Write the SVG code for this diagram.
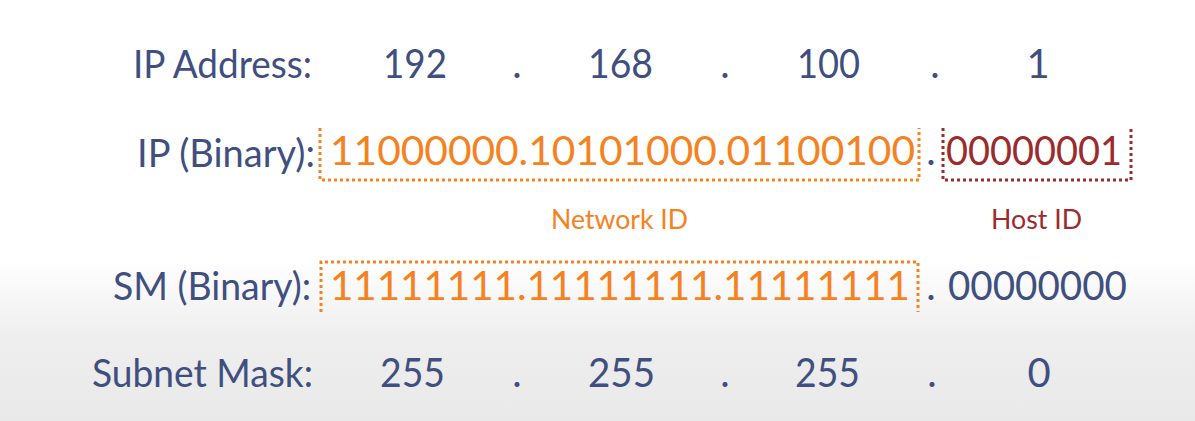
<svg xmlns="http://www.w3.org/2000/svg" width="1195" height="421" viewBox="0 0 1195 421">
<defs>
<linearGradient id="bg" x1="0" y1="0" x2="0" y2="1">
<stop offset="0" stop-color="#ffffff"/>
<stop offset="0.62" stop-color="#ffffff"/>
<stop offset="0.8" stop-color="#eeeeee"/>
<stop offset="1" stop-color="#e9e9e9"/>
</linearGradient>
<style>
text{font-family:Lato,"Liberation Sans",sans-serif;}
.lbl{fill:#3f4f80;font-size:38px;}
.num{fill:#3f4f80;font-size:40px;}
.org{fill:#f5821f;font-size:40px;}
.red{fill:#9c2b2b;font-size:40px;}
.sub{font-size:26px;}
.dot{fill:#3f4f80;font-size:40px;text-anchor:middle;}
.box{fill:none;stroke-width:3;stroke-dasharray:3 3;}
</style>
</defs>
<rect width="1195" height="421" fill="url(#bg)"/>
<g id="row-ip-address">
<text class="lbl" x="133" y="78" textLength="179" lengthAdjust="spacingAndGlyphs">IP Address:</text>
<text class="num" x="383" y="78" textLength="64" lengthAdjust="spacingAndGlyphs">192</text>
<text class="dot" x="517" y="78">.</text>
<text class="num" x="588" y="78" textLength="65" lengthAdjust="spacingAndGlyphs">168</text>
<text class="dot" x="725" y="78">.</text>
<text class="num" x="797" y="78" textLength="63" lengthAdjust="spacingAndGlyphs">100</text>
<text class="dot" x="935" y="78">.</text>
<text class="num" x="1038" y="78" text-anchor="middle">1</text>
</g>
<g id="row-ip-binary">
<text class="lbl" x="137" y="167" textLength="178" lengthAdjust="spacingAndGlyphs">IP (Binary):</text>
<text class="org" x="330" y="165" textLength="585" lengthAdjust="spacingAndGlyphs">11000000.10101000.01100100</text>
<text class="dot" x="931" y="165">.</text>
<text class="red" x="946" y="165" textLength="176" lengthAdjust="spacingAndGlyphs">00000001</text>
</g>
<g id="network-id">
<path class="box" stroke="#f5821f" d="M320,128 V180 H919 V128"/>
<text class="org sub" x="551" y="229" textLength="137" lengthAdjust="spacingAndGlyphs">Network ID</text>
</g>
<g id="host-id">
<path class="box" stroke="#9c2b2b" d="M943,128 V180 H1131 V128"/>
<text class="red sub" x="991" y="229" textLength="91" lengthAdjust="spacingAndGlyphs">Host ID</text>
</g>
<g id="row-sm-binary">
<path class="box" stroke="#f5821f" d="M321,312 V262 H918 V312"/>
<text class="lbl" x="113" y="300" textLength="198" lengthAdjust="spacingAndGlyphs">SM (Binary):</text>
<text class="org" x="330" y="300" textLength="580" lengthAdjust="spacingAndGlyphs">11111111.11111111.11111111</text>
<text class="dot" x="931" y="300">.</text>
<text class="num" x="948" y="300" textLength="179" lengthAdjust="spacingAndGlyphs">00000000</text>
</g>
<g id="row-subnet-mask">
<text class="lbl" x="92" y="387" textLength="221" lengthAdjust="spacingAndGlyphs">Subnet Mask:</text>
<text class="num" x="380" y="387" textLength="65" lengthAdjust="spacingAndGlyphs">255</text>
<text class="dot" x="517" y="387">.</text>
<text class="num" x="588" y="387" textLength="67" lengthAdjust="spacingAndGlyphs">255</text>
<text class="dot" x="725" y="387">.</text>
<text class="num" x="795" y="387" textLength="65" lengthAdjust="spacingAndGlyphs">255</text>
<text class="dot" x="932" y="387">.</text>
<text class="num" x="1039" y="387" text-anchor="middle">0</text>
</g>
<g id="connectors"></g>
</svg>
